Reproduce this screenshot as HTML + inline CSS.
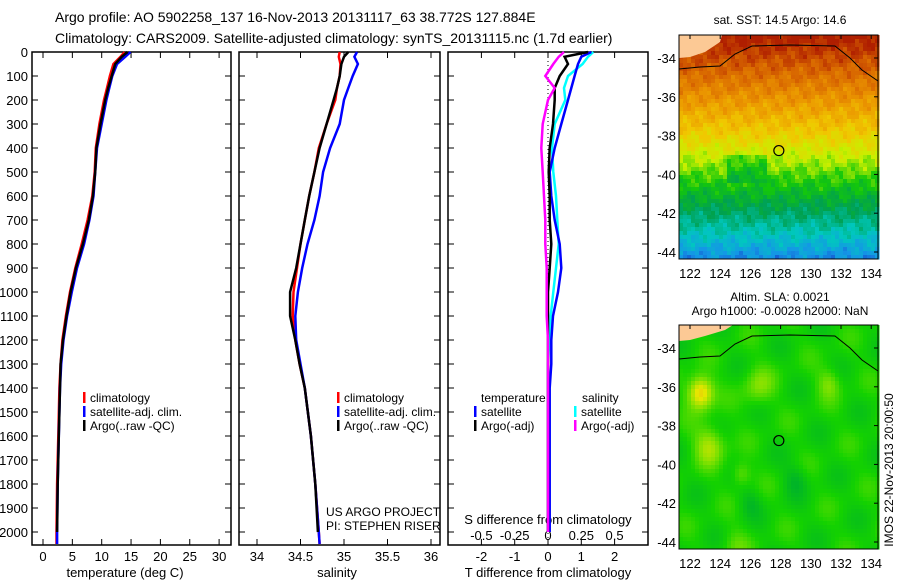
<!DOCTYPE html>
<html><head><meta charset="utf-8"><style>
html,body{margin:0;padding:0;background:#fff;width:900px;height:580px;overflow:hidden}
svg text{font-family:"Liberation Sans",sans-serif;fill:#000}
</style></head><body>
<svg id="chart" width="900" height="580" viewBox="0 0 900 580" xmlns="http://www.w3.org/2000/svg">
<text x="55" y="22" font-size="14">Argo profile: AO 5902258_137 16-Nov-2013 20131117_63 38.772S 127.884E</text>
<text x="55" y="43" font-size="14">Climatology: CARS2009. Satellite-adjusted climatology: synTS_20131115.nc (1.7d earlier)</text>
<g id="g"></g>
</svg>
<script>
// ---- data ----
const depthT = [0,20,50,100,150,200,300,400,500,600,700,800,900,1000,1100,1200,1300,1400,1600,1800,2000,2050];
const tempClim = [13.9,13.2,12.0,11.4,10.9,10.4,9.6,9.0,8.8,8.4,7.6,6.6,5.5,4.6,3.9,3.3,3.0,2.8,2.6,2.4,2.3,2.3];
const tempSat  = [14.9,14.0,12.6,11.8,11.3,10.8,10.0,9.2,8.9,8.6,7.9,7.0,5.8,4.9,4.1,3.5,3.1,2.9,2.7,2.5,2.4,2.4];
const tempArgo = [14.4,13.4,12.3,11.7,11.1,10.6,9.8,9.1,8.9,8.5,7.8,6.8,5.6,4.7,4.0,3.4,3.0,2.9,2.7,2.5,2.4];
const salClim = [34.95,34.94,34.96,34.95,34.92,34.90,34.80,34.71,34.66,34.60,34.55,34.50,34.46,34.42,34.41,34.44,34.49,34.55,34.62,34.67,34.71,34.72];
const salSat  = [35.15,35.12,35.16,35.10,35.05,35.00,34.95,34.84,34.76,34.72,34.66,34.58,34.52,34.47,34.44,34.45,34.50,34.55,34.62,34.67,34.71,34.72];
const salArgo = [35.05,35.00,34.97,34.95,34.92,34.88,34.80,34.72,34.66,34.60,34.55,34.50,34.45,34.38,34.38,34.44,34.49,34.55,34.62,34.67,34.70];
const dTsat  = [1.3,1.0,0.9,0.8,0.7,0.6,0.4,0.2,0.05,0.1,0.2,0.35,0.4,0.3,0.15,0.1,0.1,0.05,0.05,0.05,0.05];
const dTargo = [1.2,0.5,0.6,0.35,0.2,0.2,0.15,0.05,0.02,0.05,0.05,0.1,0.05,0.0,0.0,0.0,0.0,0.0,0.0,0.0,0.0];
const dSsat  = [0.34,0.3,0.26,0.15,0.12,0.13,0.05,0.03,0.04,0.06,0.07,0.08,0.06,0.04,0.02,0.01,0.0,0.0,0.0,0.0,0.0];
const dSargo = [0.12,0.08,0.04,-0.02,0.05,0.0,-0.04,-0.05,-0.04,-0.03,-0.02,-0.02,-0.01,-0.01,-0.01,0.0,0.0,0.0,0.0,0.0,0.0];
const depthTicks = [0,100,200,300,400,500,600,700,800,900,1000,1100,1200,1300,1400,1500,1600,1700,1800,1900,2000];
const tTicks = [0,5,10,15,20,25,30];
const sTicks = [34,34.5,35,35.5,36];
const dTTicks = [-2,-1,0,1,2];
const dSTicks = [-0.5,-0.25,0,0.25,0.5];
const latTicks = [-34,-36,-38,-40,-42,-44];
const lonTicks = [122,124,126,128,130,132,134];

const NS="http://www.w3.org/2000/svg";
const G=document.getElementById('g');
function mk(tag,attrs,parent){const e=document.createElementNS(NS,tag);for(const k in attrs)e.setAttribute(k,attrs[k]);(parent||G).appendChild(e);return e;}
function txt(x,y,s,size,anchor,name){const t=mk('text',{x:x,y:y,'font-size':size,'text-anchor':anchor||'start'});t.textContent=s;


return t;}
const Y=d=>52+d*0.24;
const xT=v=>43+v*5.87;
const xS=v=>257+(v-34)*87;
const xDT=v=>548+v*33.3;
const xDS=v=>548+v*133.2;

function panel(x0,x1,name){
  const r=mk('rect',{x:x0,y:52,width:x1-x0,height:493,fill:'none',stroke:'#000','stroke-width':1.5});
  
  
  depthTicks.forEach(d=>{mk('line',{x1:x0,x2:x0+6,y1:Y(d),y2:Y(d),stroke:'#000'});mk('line',{x1:x1-6,x2:x1,y1:Y(d),y2:Y(d),stroke:'#000'});});
}
panel(32,231,'temperature-panel');panel(239,440,'salinity-panel');panel(448,648,'difference-panel');
depthTicks.forEach(d=>txt(28,Y(d)+5,String(d),13,'end','depth-tick-label'));
tTicks.forEach(v=>{mk('line',{x1:xT(v),x2:xT(v),y1:545,y2:539,stroke:'#000'});mk('line',{x1:xT(v),x2:xT(v),y1:52,y2:58,stroke:'#000'});txt(xT(v),561,String(v),13,'middle','temperature-tick-label');});
sTicks.forEach(v=>{mk('line',{x1:xS(v),x2:xS(v),y1:545,y2:539,stroke:'#000'});mk('line',{x1:xS(v),x2:xS(v),y1:52,y2:58,stroke:'#000'});txt(xS(v),561,String(v),13,'middle','salinity-tick-label');});
dTTicks.forEach(v=>{mk('line',{x1:xDT(v),x2:xDT(v),y1:545,y2:539,stroke:'#000'});mk('line',{x1:xDT(v),x2:xDT(v),y1:52,y2:58,stroke:'#000'});txt(xDT(v),561,String(v),13,'middle','t-diff-tick-label');});
dSTicks.forEach(v=>txt(xDS(v),540,String(v),13,'middle','s-diff-tick-label'));
txt(125,577,'temperature (deg C)',13,'middle','temperature-axis-title');
txt(337,577,'salinity',13,'middle','salinity-axis-title');
txt(548,577,'T difference from climatology',13,'middle','t-diff-axis-title');
txt(548,524,'S difference from climatology',13,'middle','s-diff-axis-title');
mk('line',{x1:548,x2:548,y1:53,y2:544,stroke:'#000','stroke-dasharray':'1,3'});

function line(xs,vals,fx,color,name,w){
  const pts=vals.map((v,i)=>fx(v).toFixed(1)+','+Y(xs[i]).toFixed(1)).join(' ');
  const p=mk('polyline',{points:pts,fill:'none',stroke:color,'stroke-width':w||2.5});
  
  
}
line(depthT,tempClim,xT,'#f00','temp-climatology-line');
line(depthT,tempSat,xT,'#00f','temp-satellite-line');
line(depthT,tempArgo,xT,'#000','temp-argo-line');
line(depthT,salClim,xS,'#f00','sal-climatology-line');
line(depthT,salSat,xS,'#00f','sal-satellite-line');
line(depthT,salArgo,xS,'#000','sal-argo-line');
line(depthT,dSsat,xDS,'#0ff','s-diff-satellite-line');
line(depthT,dTsat,xDT,'#00f','t-diff-satellite-line');
line(depthT,dTargo,xDT,'#000','t-diff-argo-line');
line(depthT,dSargo,xDS,'#f0f','s-diff-argo-line');

function leg(x,y,color,label,name){mk('rect',{x:x,y:y-10,width:2.5,height:11,fill:color});txt(x+7,y,label,12,'start',name);}
[[83,'climatology','#f00'],[83,'satellite-adj. clim.','#00f'],[83,'Argo(..raw -QC)','#000']].forEach((l,i)=>leg(l[0],402+i*14,l[2],l[1],'legend-entry'));
[[337,'climatology','#f00'],[337,'satellite-adj. clim.','#00f'],[337,'Argo(..raw -QC)','#000']].forEach((l,i)=>leg(l[0],402+i*14,l[2],l[1],'legend-entry'));
txt(481,402,'temperature',12,'start','legend-heading-temperature');
txt(582,402,'salinity',12,'start','legend-heading-salinity');
leg(474,416,'#00f','satellite','legend-entry');leg(474,430,'#000','Argo(-adj)','legend-entry');
leg(574,416,'#0ff','satellite','legend-entry');leg(574,430,'#f0f','Argo(-adj)','legend-entry');
txt(326,516,'US ARGO PROJECT',12,'start','project-label');
txt(326,530,'PI: STEPHEN RISER',12,'start','pi-label');

// ---- maps ----
function pal(stops,t){t=Math.max(0,Math.min(1,t));const n=stops.length-1;const i=Math.min(n-1,Math.floor(t*n));const f=t*n-i;const a=stops[i],b=stops[i+1];return `rgb(${Math.round(a[0]+(b[0]-a[0])*f)},${Math.round(a[1]+(b[1]-a[1])*f)},${Math.round(a[2]+(b[2]-a[2])*f)})`;}
const sstPal=[[20,60,200],[20,150,230],[0,200,190],[0,160,80],[20,200,10],[200,240,0],[240,200,0],[235,150,0],[215,100,0],[175,30,0]];
const slaPal=[[0,150,90],[0,180,40],[20,210,0],[130,225,0],[230,230,0],[240,170,20]];
function map(x0,y0,y34,name,fn,land,P){
  const x1=878,y1=y34+201, lonX=l=>690+(l-122)*15.1, latY=l=>y34+(-34-l)*19.4;
  const g=mk('g',{});
  const cs=4;
  for(let y=y0;y<y1;y+=cs)for(let x=x0;x<x1;x+=cs){
    const lat=-34-(y+cs/2-y34)/19.4, lon=122+(x+cs/2-690)/15.1;
    mk('rect',{x:x,y:y,width:cs+0.5,height:cs+0.5,fill:pal(P,fn(lat,lon))},g);
  }
  mk('path',{d:land,fill:'#fcc995'},g);
  mk('path',{d:`M679,${y34+11} L700,${y34+9} L720,${y34+8} L735,${y34-4} L752,${y34-12} L790,${y34-13} L835,${y34-12} L850,${y34} L862,${y34+12} L878,${y34+23}`,fill:'none',stroke:'#000','stroke-width':1},g);
  mk('rect',{x:x0,y:y0,width:x1-x0,height:y1-y0,fill:'none',stroke:'#000'},g);
  latTicks.forEach(l=>{mk('line',{x1:x1,x2:x1-4,y1:latY(l),y2:latY(l),stroke:'#000'});txt(676,latY(l)+5,String(l),13,'end','map-lat-label');});
  lonTicks.forEach(l=>{mk('line',{x1:lonX(l),x2:lonX(l),y1:y0,y2:y0+4,stroke:'#000'});txt(lonX(l),y1+19,String(l),13,'middle','map-lon-label');});
  const c=mk('circle',{cx:lonX(127.884),cy:latY(-38.772),r:5,fill:'none',stroke:'#000','stroke-width':1.2});
  
}
map(679,35,58,'sst-map',(lat,lon)=>{
  // lat -44.5 -> 0.05 ; -33 -> 1
  let t;
  if(lat<-43) t=0.08+(lat+44.5)/1.5*0.15;
  else if(lat<-40) t=0.23+(lat+43)/3*0.25;
  else if(lat<-38) t=0.48+(lat+40)/2*0.17;
  else t=0.65+(lat+38)/5*0.35;
  t+=0.025*Math.sin(lon*5.3+lat*3.7)+0.02*Math.sin(lon*2.1-lat*6.1)+0.015*Math.sin(lon*11.7+lat*9.1);
  if(lat<-39&&lat>-40.5&&lon>124.5&&lon<127)t-=0.07;
  return t;},'M679,35 L722,35 L720,42 L705,52 L690,57 L679,58 Z',sstPal);
txt(780,24,'sat. SST: 14.5 Argo: 14.6',12,'middle','sst-map-title');
txt(780,301,'Altim. SLA: 0.0021',12,'middle','sla-map-title-1');
txt(780,315,'Argo h1000: -0.0028 h2000: NaN',12,'middle','sla-map-title-2');
map(679,325,348,'sla-map',(lat,lon)=>{
  let t=0.38+0.05*Math.sin(lon*1.9+lat*1.1)+0.04*Math.sin(lon*0.9-lat*2.3);
  const b=(cl,co,r,a)=>a*Math.exp(-((lat-cl)**2+(lon-co)**2)/r);
  t+=b(-36.3,122.7,0.7,0.55)+b(-39,123.3,1.0,0.3)+b(-36,126.5,1.0,0.2)+b(-35.8,131.2,0.6,0.2)+b(-40.5,125.4,0.4,0.2)+b(-44.2,125,0.8,0.12)-b(-40.8,129,0.6,0.15)-b(-42,126,0.5,0.12);
  return t;},'M679,325 L733,325 L725,330 L705,336 L690,340 L679,341 Z',slaPal);
const v=txt(0,0,'IMOS 22-Nov-2013 20:00:50',12,'middle','imos-timestamp');
v.setAttribute('transform','translate(893,470) rotate(-90)');
</script>
</body></html>
